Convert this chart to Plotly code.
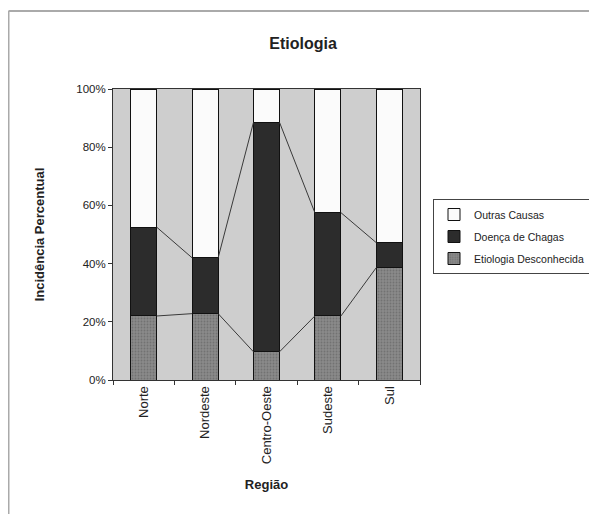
import plotly.graph_objects as go

categories = ["Norte", "Nordeste", "Centro-Oeste", "Sudeste", "Sul"]
etiologia_desconhecida = [22.0, 22.8, 9.7, 22.0, 38.6]
doenca_de_chagas = [30.5, 19.2, 78.8, 35.5, 8.6]
outras_causas = [47.5, 58.0, 11.5, 42.5, 52.8]
y_ticks = [0, 20, 40, 60, 80, 100]
y_tick_labels = ["0%", "20%", "40%", "60%", "80%", "100%"]

BAR_W = 0.425
xs = list(range(len(categories)))

# figure is rendered with an 8px page margin, so geometry is expressed in figure pixels
W, H = 589, 506
PL, PR, PT, PB = 105, 412, 81, 372
pw, ph = PR - PL, PB - PT


def px_x(x):
    return (x - PL) / pw


def px_y(y):
    return (PB - y) / ph


fig = go.Figure()
fig.add_trace(go.Bar(
    x=xs, y=etiologia_desconhecida, name="Etiologia Desconhecida", width=BAR_W,
    marker=dict(color="#7d7d7d", line=dict(color="#111111", width=1),
                pattern=dict(shape=".", fgcolor="#5a5a5a", bgcolor="#8a8a8a", size=3, solidity=0.3)),
    legendgroup="a", legendrank=3))
fig.add_trace(go.Bar(
    x=xs, y=doenca_de_chagas, name="Doença de Chagas", width=BAR_W,
    marker=dict(color="#2c2c2c", line=dict(color="#111111", width=1)),
    legendgroup="b", legendrank=2))
fig.add_trace(go.Bar(
    x=xs, y=outras_causas, name="Outras Causas", width=BAR_W,
    marker=dict(color="#fbfbfb", line=dict(color="#111111", width=1)),
    legendgroup="c", legendrank=1))

# series lines (Excel style) connecting tops of each stacked series
cum1 = etiologia_desconhecida
cum2 = [a + b for a, b in zip(etiologia_desconhecida, doenca_de_chagas)]
for cum in (cum1, cum2):
    lx, ly = [], []
    for i in range(len(categories) - 1):
        lx += [xs[i] + BAR_W / 2, xs[i + 1] - BAR_W / 2, None]
        ly += [cum[i], cum[i + 1], None]
    fig.add_trace(go.Scatter(x=lx, y=ly, mode="lines", showlegend=False,
                             line=dict(color="#3a3a3a", width=1), hoverinfo="skip"))

fig.update_layout(
    width=W, height=H,
    margin=dict(l=PL, r=W - PR, t=PT, b=H - PB, autoexpand=False),
    barmode="stack",
    paper_bgcolor="white",
    plot_bgcolor="#cecece",
    font=dict(family="Liberation Sans, Arial, sans-serif", size=12, color="#222222"),
    title=dict(text="<b>Etiologia</b>", x=295 / W, xref="container", xanchor="center",
               y=1 - 35 / H, yref="container", yanchor="middle",
               font=dict(size=16, color="#222222")),
    legend=dict(x=px_x(425), y=px_y(191), xanchor="left", yanchor="top",
                bordercolor="#444444", borderwidth=1, bgcolor="white",
                traceorder="grouped", tracegroupgap=3,
                font=dict(size=10.5), itemwidth=30),
    showlegend=True,
    xaxis=dict(range=[-0.5, 4.5], tickmode="array", tickvals=xs, ticktext=categories,
               tickangle=-90, ticks="", showgrid=False, zeroline=False,
               showline=True, linecolor="#333333", linewidth=1, mirror=True,
               minor=dict(tickmode="array", tickvals=[-0.5, 0.5, 1.5, 2.5, 3.5, 4.5],
                          ticks="outside", ticklen=4, tickcolor="#333333", showgrid=False),
               tickfont=dict(size=13),
               title=dict(text="<b>Região</b>", standoff=16, font=dict(size=13))),
    yaxis=dict(range=[0, 100], tickmode="array", tickvals=y_ticks, ticktext=y_tick_labels,
               ticks="outside", ticklen=4, tickcolor="#333333", showgrid=False,
               zeroline=False, showline=True, linecolor="#333333", linewidth=1, mirror=True,
               tickfont=dict(size=11.5),
               title=dict(text="<b>Incidência Percentual</b>", standoff=28, font=dict(size=13))),
    shapes=[
        dict(type="line", xref="paper", yref="paper", x0=px_x(0.5), x1=px_x(W),
             y0=px_y(3), y1=px_y(3), line=dict(color="#aaaaaa", width=2)),
        dict(type="line", xref="paper", yref="paper", x0=px_x(0.5), x1=px_x(0.5),
             y0=px_y(3), y1=px_y(H), line=dict(color="#aaaaaa", width=2)),
    ],
)

fig.write_html("out.html")
